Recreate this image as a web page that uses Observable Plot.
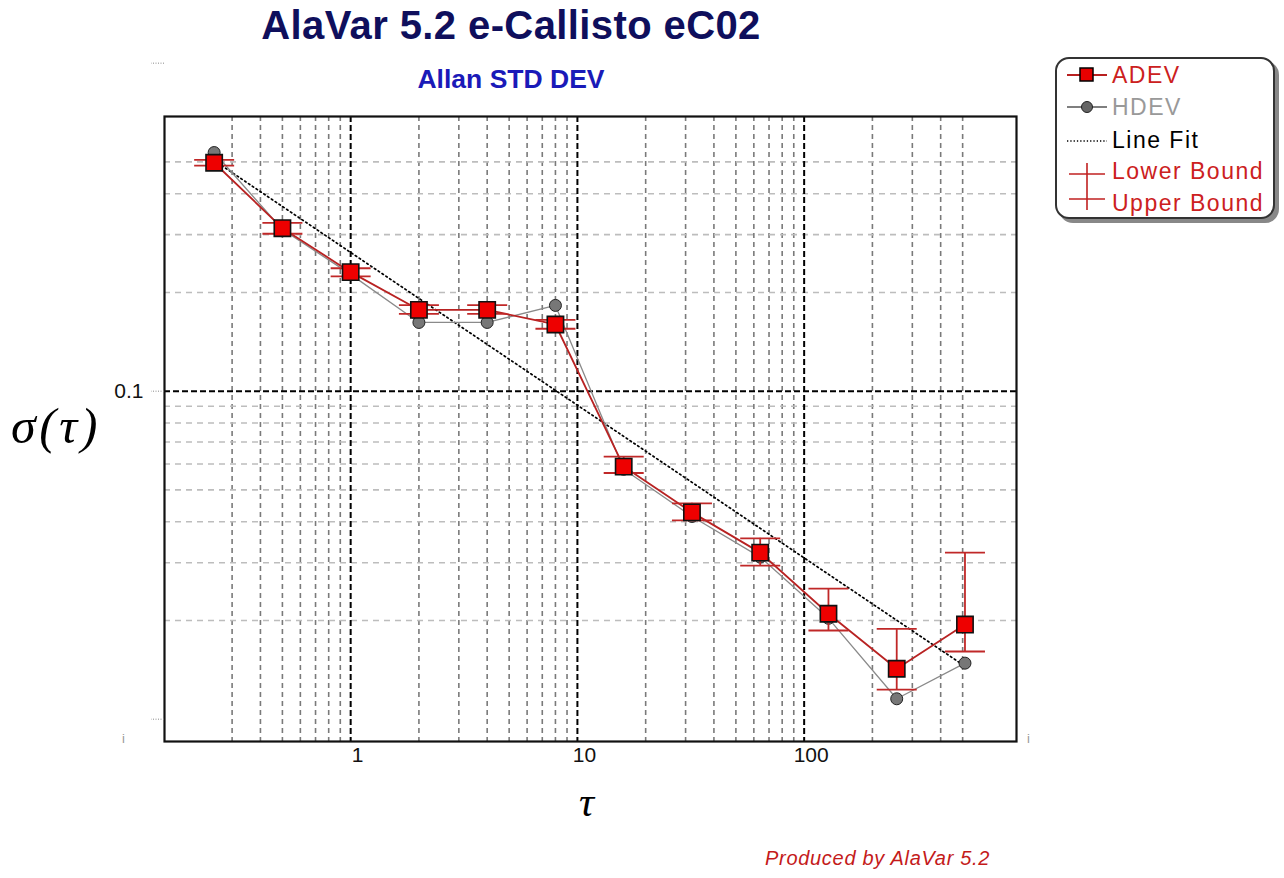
<!DOCTYPE html>
<html>
<head>
<meta charset="utf-8">
<script src="https://cdn.jsdelivr.net/npm/d3@7"></script>
<script src="https://cdn.jsdelivr.net/npm/@observablehq/plot@0.6"></script>
<style>
  html, body { margin: 0; padding: 0; background: #fff; }
  #wrap { position: relative; width: 1284px; height: 878px; overflow: hidden; font-family: Arial, "Liberation Sans", sans-serif; }
  #chart { position: absolute; left: 0; top: 0; }
  .abs { position: absolute; white-space: nowrap; }
  #title { left: 0; width: 1022px; top: 3px; text-align: center; font-size: 40px; letter-spacing: 0.4px; font-weight: bold; color: #0f0f5c; }
  #subtitle { left: 0; width: 1022px; top: 64px; text-align: center; font-size: 26.5px; font-weight: bold; color: #1a1ab8; }
  #ylab { left: 11px; top: 397px; font-family: "Liberation Serif", "DejaVu Serif", serif; font-style: italic; font-size: 50px; letter-spacing: 3.5px; color: #000; }
  #xlab { left: 579px; top: 778px; font-family: "Liberation Serif", "DejaVu Serif", serif; font-style: italic; font-size: 42px; color: #000; }
  #caption { left: 765px; top: 847px; font-style: italic; font-size: 20px; letter-spacing: 0.7px; color: #c41a1a; }
  #legend { left: 1055px; top: 57px; width: 216px; height: 158px; border: 2px solid #333; border-radius: 14px; box-shadow: 4px 4px 0 #888; background: #fff; }
  .lrow { position: absolute; left: 0; font-size: 23px; letter-spacing: 1.5px; }
  .lrow svg { position: absolute; left: 8px; }
  .lrow span { position: absolute; left: 55px; }
  .glyph { position: absolute; color: #999; font-size: 13px; }
</style>
</head>
<body>
<div id="wrap">
  <div id="chart"></div>
  <div id="title" class="abs">AlaVar 5.2 e-Callisto eC02</div>
  <div id="subtitle" class="abs">Allan STD DEV</div>
  <div id="ylab" class="abs">σ(τ)</div>
  <div id="xlab" class="abs">τ</div>
  <div id="caption" class="abs">Produced by AlaVar 5.2</div>
  <div class="glyph" style="left:122px;top:731px;">i</div>
  <div class="glyph" style="left:1027px;top:731px;">i</div>
  <div id="legend" class="abs">
    <div class="lrow" style="top:3px;">
      <svg width="44" height="26"><line x1="2" y1="13" x2="42" y2="13" stroke="#b82020" stroke-width="2"/><rect x="15" y="6" width="13" height="13" fill="#e80000" stroke="#000" stroke-width="1.5"/></svg>
      <span style="color:#cc2020;top:0px;">ADEV</span>
    </div>
    <div class="lrow" style="top:35px;">
      <svg width="44" height="26"><line x1="2" y1="13" x2="42" y2="13" stroke="#555" stroke-width="1.5"/><circle cx="22" cy="13" r="5.5" fill="#666" stroke="#222" stroke-width="1"/></svg>
      <span style="color:#999;top:0px;">HDEV</span>
    </div>
    <div class="lrow" style="top:68px;">
      <svg width="44" height="26"><line x1="2" y1="14" x2="42" y2="14" stroke="#000" stroke-width="1.3" stroke-dasharray="1.3,2"/></svg>
      <span style="color:#000;top:0px;">Line Fit</span>
    </div>
    <div class="lrow" style="top:99px;">
      <svg width="44" height="60"><line x1="4" y1="16" x2="40" y2="16" stroke="#c02020" stroke-width="1.6"/><line x1="4" y1="41" x2="40" y2="41" stroke="#c02020" stroke-width="1.6"/><line x1="22" y1="5" x2="22" y2="52" stroke="#c02020" stroke-width="1.6"/></svg>
      <span style="color:#cc2020;top:0px;">Lower Bound</span>
      <span style="color:#cc2020;top:32px;">Upper Bound</span>
    </div>
  </div>
</div>
<script>
// ---- data ----
const tau        = [0.25, 0.5, 1, 2, 4, 8, 16, 32, 64, 128, 256, 512];
const adev       = [0.497, 0.314, 0.2306, 0.177, 0.177, 0.1597, 0.0589, 0.0427, 0.0322, 0.02096, 0.01425, 0.01943];
const hdev       = [0.534, 0.311, 0.227, 0.162, 0.162, 0.1826, 0.0578, 0.0415, 0.0312, 0.0203, 0.01154, 0.01482];
const lowerBound = [0.487, 0.302, 0.224, 0.172, 0.172, 0.155, 0.0563, 0.0404, 0.0294, 0.01864, 0.0123, 0.01608];
const upperBound = [0.507, 0.326, 0.237, 0.183, 0.183, 0.165, 0.0632, 0.0455, 0.0356, 0.025, 0.01886, 0.0322];
const fitTau     = [0.25, 512];
const fitSigma   = [0.505, 0.0145];

const xMajor = [1, 10, 100];
const xMinor = [0.3, 0.4, 0.5, 0.6, 0.7, 0.8, 0.9, 2, 3, 4, 5, 6, 7, 8, 9, 20, 30, 40, 50, 60, 70, 80, 90, 200, 300, 400, 500];
const yMajor = [0.1];
const yMinor = [0.02, 0.03, 0.04, 0.05, 0.06, 0.07, 0.08, 0.09, 0.2, 0.3, 0.4, 0.5];
const xTickLabels = ["1", "10", "100"];
const yTickValues = [0.01, 0.1, 1];
const yLabelValues = [0.1];
const yTickLabels = ["0.1"];

// ---- build ----
const rows = tau.map((t, i) => ({tau: t, adev: adev[i], hdev: hdev[i], lo: lowerBound[i], hi: upperBound[i]}));
const fit = fitTau.map((t, i) => ({tau: t, s: fitSigma[i]}));
const cap = {draw(ctx) { ctx.moveTo(-20, 0); ctx.lineTo(20, 0); }};
const red = "#c02828";
const xLab = d => xTickLabels[xMajor.indexOf(d)] ?? "";
const yLab = d => yTickLabels[yLabelValues.indexOf(d)] ?? "";

const chart = Plot.plot({
  width: 1284,
  height: 878,
  marginLeft: 164,
  marginRight: 268,
  marginTop: 116,
  marginBottom: 137,
  style: {fontFamily: "Arial, 'Liberation Sans', sans-serif", fontSize: "21px", color: "#111", background: "transparent"},
  x: {type: "log", domain: [0.151, 864], axis: null},
  y: {type: "log", domain: [0.00855, 0.6877], axis: null},
  marks: [
    Plot.ruleX(xMinor, {stroke: "#7a7a7a", strokeWidth: 1.6, strokeDasharray: "5,4"}),
    Plot.ruleY(yMinor, {stroke: "#bdbdbd", strokeWidth: 1.6, strokeDasharray: "6,5"}),
    Plot.ruleX(xMajor, {stroke: "#000", strokeWidth: 2, strokeDasharray: "6,3"}),
    Plot.ruleY(yMajor, {stroke: "#000", strokeWidth: 2, strokeDasharray: "6,3"}),
    Plot.frame({stroke: "#111", strokeWidth: 2.2}),
    Plot.axisY({ticks: yTickValues, tickFormat: () => "", tickSize: 13, stroke: "#888", strokeDasharray: "1,1.5", label: null}),
    Plot.text(xMajor, {x: d => d, frameAnchor: "bottom", dy: 20, dx: 7, text: xLab, fontSize: 21, fill: "#111"}),
    Plot.text(yLabelValues, {y: d => d, frameAnchor: "left", dx: -21, textAnchor: "end", text: yLab, fontSize: 21, fill: "#111"}),
    Plot.line(fit, {x: "tau", y: "s", stroke: "#000", strokeWidth: 1.7, strokeDasharray: "1.6,3"}),
    Plot.line(rows, {x: "tau", y: "hdev", stroke: "#8a8a8a", strokeWidth: 1.3}),
    Plot.line(rows, {x: "tau", y: "adev", stroke: "#b82222", strokeWidth: 1.8}),
    Plot.dot(rows, {x: "tau", y: "hdev", r: 6, fill: "#777", stroke: "#222", strokeWidth: 1}),
    Plot.ruleX(rows, {x: "tau", y1: "lo", y2: "hi", stroke: red, strokeWidth: 1.8}),
    Plot.dot(rows, {x: "tau", y: "lo", symbol: cap, fill: "none", stroke: red, strokeWidth: 1.8}),
    Plot.dot(rows, {x: "tau", y: "hi", symbol: cap, fill: "none", stroke: red, strokeWidth: 1.8}),
    Plot.dot(rows, {x: "tau", y: "adev", symbol: "square", r: 9.2, fill: "#ee0000", stroke: "#111", strokeWidth: 1.6})
  ]
});
document.getElementById("chart").appendChild(chart);
</script>
</body>
</html>
